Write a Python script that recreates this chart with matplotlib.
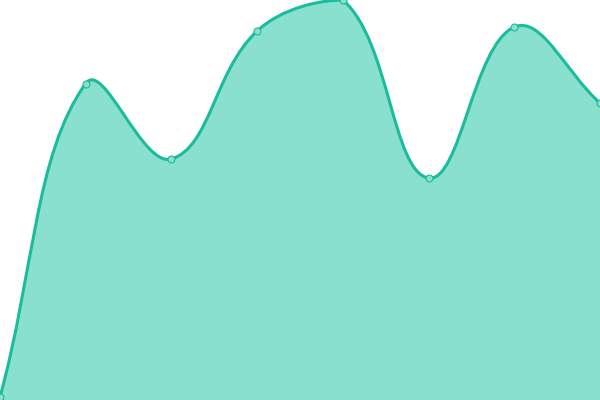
import numpy as np
import matplotlib
matplotlib.use("Agg")
import matplotlib.pyplot as plt
from matplotlib.path import Path
from matplotlib.patches import PathPatch

# data (x positions are evenly spaced categories)
x_vals = [0, 1, 2, 3, 4, 5, 6, 7]
y_vals = [3, 316.5, 241, 369, 400, 222, 373, 297]

line_color = "#1abc9c"
fill_color = "#89e0cf"
tension = 0.4

fig = plt.figure(figsize=(6, 4), dpi=100)
ax = fig.add_axes([0, 0, 1, 1])
ax.set_xlim(0, 7)
ax.set_ylim(0, 400)
ax.axis("off")

# work in display pixels so the spline matches a canvas-style smoothing
pts = ax.transData.transform(np.column_stack([x_vals, y_vals]))
W, H = fig.bbox.width, fig.bbox.height

def control_points(p):
    n = len(p)
    cps = []
    for i in range(n):
        prev = p[i - 1] if i > 0 else p[i]
        nxt = p[i + 1] if i < n - 1 else p[i]
        cur = p[i]
        d01 = np.hypot(*(cur - prev))
        d12 = np.hypot(*(nxt - cur))
        tot = d01 + d12
        s01 = d01 / tot if tot else 0
        s12 = d12 / tot if tot else 0
        fa = tension * s01
        fb = tension * s12
        c_prev = cur - fa * (nxt - prev)
        c_next = cur + fb * (nxt - prev)
        c_prev = np.clip(c_prev, [0, 0], [W, H])
        c_next = np.clip(c_next, [0, 0], [W, H])
        cps.append((c_prev, c_next))
    return cps

cps = control_points(pts)
verts = [pts[0]]
codes = [Path.MOVETO]
for i in range(len(pts) - 1):
    verts += [cps[i][1], cps[i + 1][0], pts[i + 1]]
    codes += [Path.CURVE4] * 3

inv = ax.transData.inverted()
verts_data = inv.transform(np.array(verts))

line_path = Path(verts_data, codes)
fill_verts = list(verts_data) + [[x_vals[-1], 0], [x_vals[0], 0], verts_data[0]]
fill_codes = codes + [Path.LINETO, Path.LINETO, Path.CLOSEPOLY]
fill_path = Path(fill_verts, fill_codes)

ax.add_patch(PathPatch(fill_path, facecolor=fill_color, edgecolor="none", zorder=1))
ax.add_patch(PathPatch(line_path, facecolor="none", edgecolor=line_color, lw=2.2, zorder=2))
ax.plot(x_vals, y_vals, "o", ms=5, mfc=fill_color, mec=line_color, mew=0.8,
        zorder=3, clip_on=False)

plt.savefig("out.png", dpi=100)
